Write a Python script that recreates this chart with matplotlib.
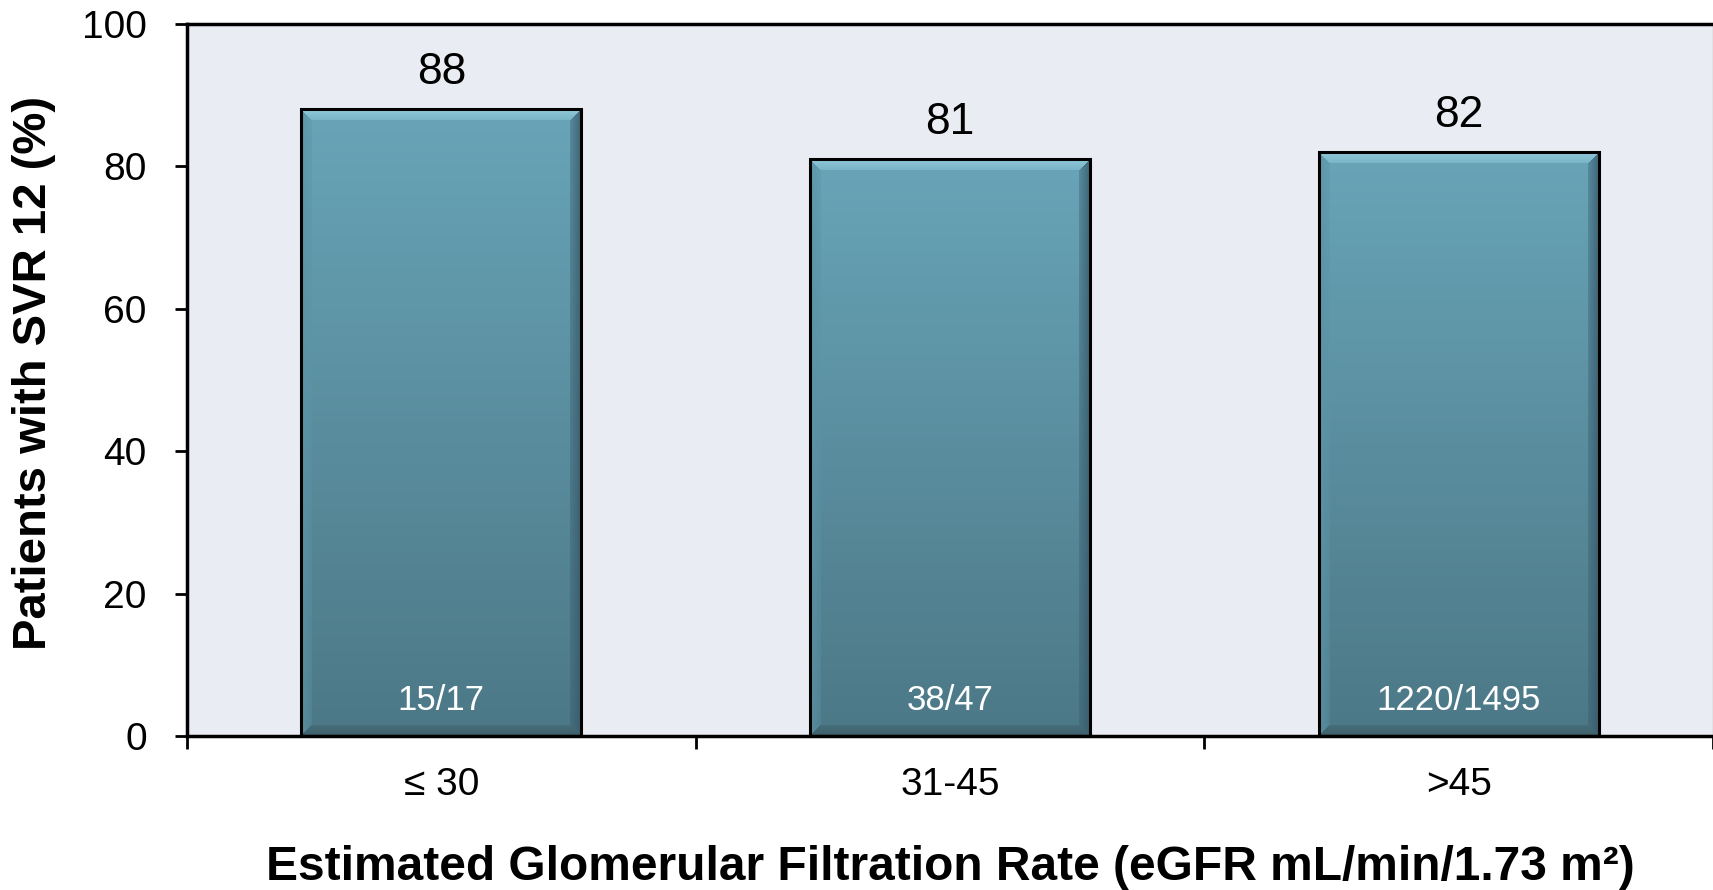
import numpy as np
import matplotlib
matplotlib.use("Agg")
import matplotlib.pyplot as plt
from matplotlib.colors import to_rgb

plt.rcParams['font.family'] = ['Liberation Sans', 'DejaVu Sans']

categories = ['\u2264 30', '31-45', '>45']
svr_pct = [88, 81, 82]
counts = ['15/17', '38/47', '1220/1495']
yticks = [0, 20, 40, 60, 80, 100]

BG = '#eaecf4'
TOP = to_rgb('#68a4b8')
BOTTOM = to_rgb('#4c7886')


def bevel_image(w, h, b=11):
    """vertical gradient with a bevelled border, w x h pixels"""
    t = np.linspace(0, 1, h)[:, None, None]
    img = (1 - t) * np.array(TOP) + t * np.array(BOTTOM)
    img = np.broadcast_to(img, (h, w, 3)).copy()
    yy, xx = np.mgrid[0:h, 0:w]
    d = np.stack([yy, h - 1 - yy, xx, w - 1 - xx])
    nearest = d.argmin(axis=0)
    dmin = d.min(axis=0)
    inband = dmin < b
    shade = {0: to_rgb('#9ad2e3'), 1: to_rgb('#3a5a64'),
             2: to_rgb('#5b93a6'), 3: to_rgb('#36596a')}
    for k, c in shade.items():
        m = inband & (nearest == k)
        a = (1 - 0.6 * dmin[m] / b)[:, None] * 0.8
        img[m] = img[m] * (1 - a) + np.array(c) * a
    return img


fig = plt.figure(figsize=(17.13, 8.9), dpi=100)
ax = fig.add_axes([187 / 1713, 1 - 736 / 890, 1526 / 1713, 712 / 890])
ax.set_facecolor(BG)

x = np.arange(len(categories))
width = 0.55
bars = ax.bar(x, svr_pct, width=width, facecolor='none', edgecolor='black',
              linewidth=2.2, zorder=3)
ax.set_xlim(-0.5, len(categories) - 0.5)
ax.set_ylim(0, 100)

# gradient fill for each bar, sized in pixels
for rect in bars:
    x0, y0 = rect.get_x(), rect.get_y()
    x1, y1 = x0 + rect.get_width(), y0 + rect.get_height()
    p0 = ax.transData.transform((x0, y0))
    p1 = ax.transData.transform((x1, y1))
    wpx = int(round(p1[0] - p0[0]))
    hpx = int(round(p1[1] - p0[1]))
    im = ax.imshow(bevel_image(wpx, hpx), extent=(x0, x1, y0, y1),
                   aspect='auto', zorder=2, interpolation='bilinear')
    im.set_clip_path(rect)

ax.set_xlim(-0.5, len(categories) - 0.5)
ax.set_ylim(0, 100)

for xi, v, c in zip(x, svr_pct, counts):
    ax.annotate(str(v), (xi, v), xytext=(0, 18), textcoords='offset points',
                ha='center', va='baseline', fontsize=32, zorder=4)
    ax.annotate(c, (xi, 0), xytext=(0, 19), textcoords='offset points',
                ha='center', va='baseline', fontsize=25, color='white', zorder=4)

ax.set_yticks(yticks)
ax.tick_params(axis='y', direction='out', length=9, width=2, labelsize=28, pad=20)
ax.set_xticks(x)
ax.set_xticklabels(categories)
ax.set_xticks(np.arange(-0.5, len(categories)), minor=True)
ax.tick_params(axis='x', which='major', length=0, labelsize=28, pad=22)
ax.tick_params(axis='x', which='minor', direction='out', length=9, width=2)

for s in ['left', 'bottom', 'top']:
    ax.spines[s].set_linewidth(2.5)
    ax.spines[s].set_color('black')
ax.spines['right'].set_color('#bbbbbb')
ax.spines['right'].set_linewidth(1)

ax.set_xlabel('Estimated Glomerular Filtration Rate (eGFR mL/min/1.73 m\u00b2)',
              fontsize=34.5, fontweight='bold', va='baseline')
ax.xaxis.set_label_coords(0.5, -0.202)
ax.set_ylabel('Patients with SVR 12 (%)', fontsize=34, fontweight='bold', va='center')
ax.yaxis.set_label_coords(-0.1, 0.51)

fig.savefig('out.png', dpi=100)
